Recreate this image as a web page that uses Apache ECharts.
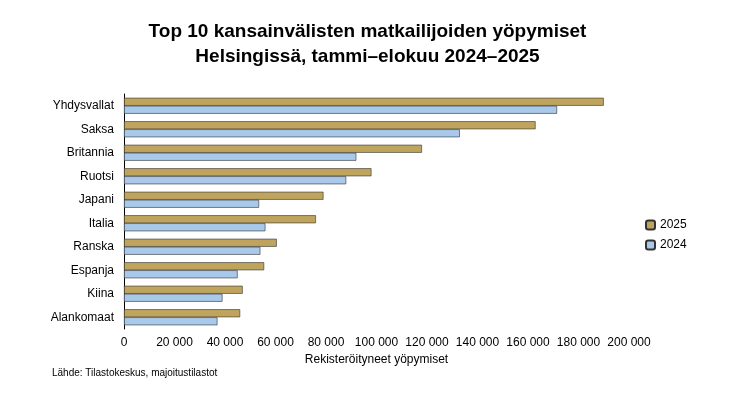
<!DOCTYPE html>
<html><head><meta charset="utf-8">
<script src="https://cdn.jsdelivr.net/npm/echarts@6/dist/echarts.min.js"></script>
<style>html,body{margin:0;padding:0;background:#fff}#c{width:735px;height:413px}</style>
</head><body><div id="c"></div>
<script>
const categories = ["Yhdysvallat","Saksa","Britannia","Ruotsi","Japani","Italia","Ranska","Espanja","Kiina","Alankomaat"];
const values2025 = [190000,163000,118000,98000,79000,76000,60500,55500,47000,46000];
const values2024 = [171500,133000,92000,88000,53500,56000,54000,45000,39000,37000];
const xTicks = [0,20000,40000,60000,80000,100000,120000,140000,160000,180000,200000];
const fmt = v => v===0 ? "0" : String(v).replace(/\B(?=(\d{3})+(?!\d))/g, "\u00a0");
const chart = echarts.init(document.getElementById('c'));
chart.setOption({
  animation:false,
  textStyle:{fontFamily:"Liberation Sans, Arial, sans-serif"},
  title:{text:"Top 10 kansainvälisten matkailijoiden yöpymiset\nHelsingissä, tammi–elokuu 2024–2025",left:"center",top:14,
    textStyle:{fontSize:19,fontWeight:"bold",color:"#000",lineHeight:25,fontFamily:"Liberation Sans, Arial, sans-serif"}},
  graphic:[{type:"text",left:52,top:368,style:{text:"Lähde: Tilastokeskus, majoitustilastot",fontSize:10,fill:"#000",fontFamily:"Liberation Sans, Arial, sans-serif"}}],
  legend:{orient:"vertical",left:640,top:214,itemWidth:9,itemHeight:9,itemGap:8,
    textStyle:{fontSize:12,color:"#000"},data:["2025","2024"]},
  grid:{left:124,right:106,top:94,bottom:84},
  xAxis:{type:"value",min:0,max:200000,interval:20000,
    name:"Rekisteröityneet yöpymiset",nameLocation:"middle",nameGap:22,nameTextStyle:{fontSize:12,color:"#000"},
    axisLabel:{fontSize:12,color:"#000",formatter:v=>fmt(v)},
    splitLine:{show:false},axisLine:{show:false},axisTick:{show:false}},
  yAxis:{type:"category",data:categories,inverse:true,
    axisLabel:{fontSize:12,color:"#000",margin:10},
    axisLine:{show:true,lineStyle:{color:"#000"}},axisTick:{show:false}},
  series:[
    {name:"2025",type:"bar",data:values2025,barWidth:8,barGap:"0%",
      itemStyle:{color:"#bfa45e",borderColor:"#333",borderWidth:0.6}},
    {name:"2024",type:"bar",data:values2024,barWidth:8,
      itemStyle:{color:"#a9c9ea",borderColor:"#333",borderWidth:0.6}}
  ]
});
</script></body></html>
